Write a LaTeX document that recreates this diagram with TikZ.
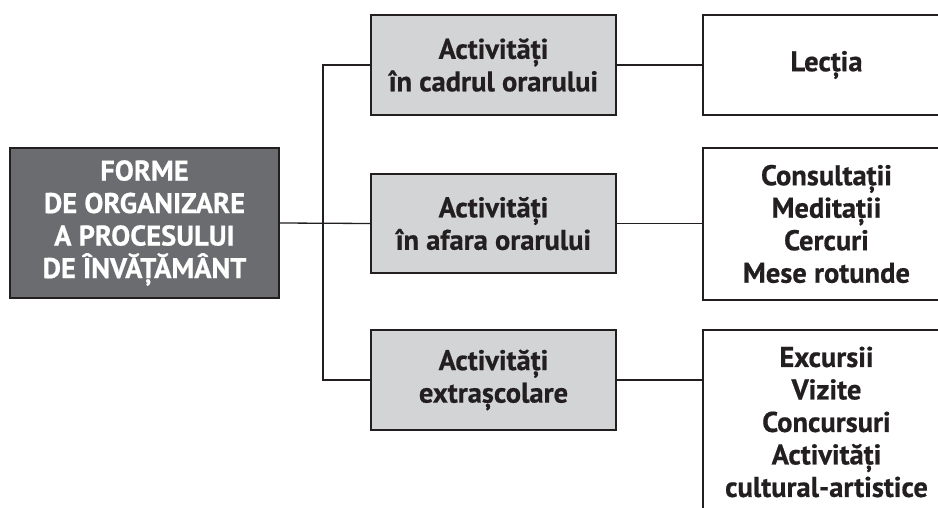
\documentclass[tikz,border=0pt]{standalone}
\usepackage{fontspec}
\setmainfont{PT Sans}[BoldFeatures={FakeBold=0.6}]
\definecolor{inkline}{HTML}{231F20}
\definecolor{rootfill}{HTML}{6B6C6F}
\definecolor{midfill}{HTML}{D3D4D6}
\begin{document}
\begin{tikzpicture}[x=1pt,y=-1pt,
  txt/.style={font=\fontsize{28.5}{32.5}\selectfont\bfseries, align=center, inner sep=0pt},
  box/.style={txt, draw=inkline, line width=1.5pt, rectangle, text=inkline},
  rootbox/.style={box, fill=rootfill, text=white, minimum width=269pt, minimum height=150pt},
  midbox/.style={box, fill=midfill, minimum width=245pt, minimum height=100pt},
  leafbox/.style={box, fill=white, minimum width=247pt},
  link/.style={draw=inkline, line width=1.3pt}]
  \clip (0,0) rectangle (938,508);
  \useasboundingbox (0,0) rectangle (938,508);

  % root of the tree
  \node[rootbox] (root) at (144.5,223) {FORME\\DE ORGANIZARE\\A PROCESULUI\\DE ÎNVĂȚĂMÂNT};

  % middle level
  \node[midbox] (inside) at (493.5,65) {Activități\\în cadrul orarului};
  \node[midbox, minimum height=99pt] (outside) at (493.5,223.5) {Activități\\în afara orarului};
  \node[midbox] (extra) at (493.5,380) {Activități\\extrașcolare};

  % leaves, running past the right edge
  \node[leafbox, minimum height=100pt] (lesson) at (826.5,65) {Lecția};
  \node[leafbox, minimum height=152pt] (consult) at (826.5,224) {Consultații\\Meditații\\Cercuri\\Mese rotunde};
  \node[leafbox, minimum height=184pt] (trips) at (826.5,422) {Excursii\\Vizite\\Concursuri\\Activități\\cultural-artistice};

  % connectors
  \coordinate (trunk) at (323,223);
  \draw[link] (root.east) -- (outside.west);
  \draw[link] (inside.west) -| (trunk) |- (extra.west);
  \draw[link] (inside.east) -- (lesson.west);
  \draw[link] (outside.east) -- (outside.east -| consult.west);
  \draw[link] (extra.east) -- (extra.east -| trips.west);
\end{tikzpicture}
\end{document}
